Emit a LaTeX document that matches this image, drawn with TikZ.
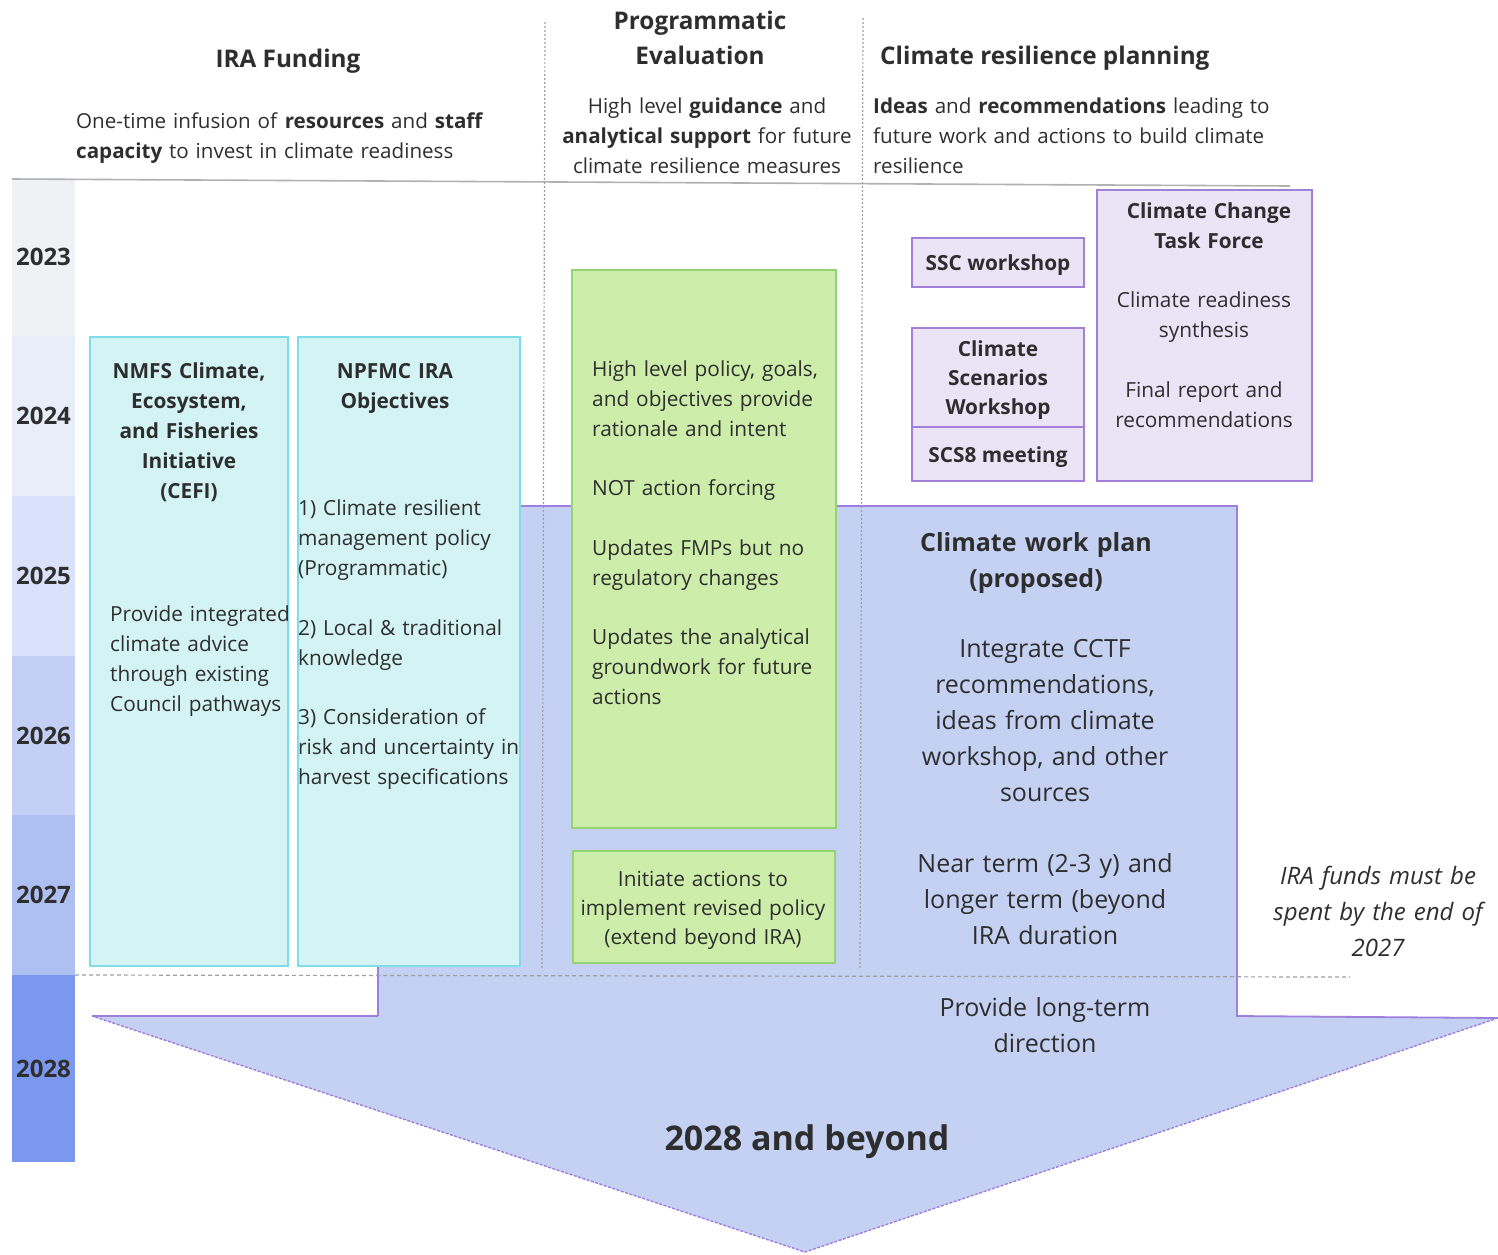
\documentclass[tikz,border=0pt]{standalone}
\usepackage{fontspec}
\setmainfont{Open Sans}
\usepackage{tikz}
\usetikzlibrary{positioning}

\definecolor{yrA}{HTML}{F0F1F5}
\definecolor{yrB}{HTML}{E8EDFA}
\definecolor{yrC}{HTML}{D9E2FA}
\definecolor{yrD}{HTML}{C4CFF5}
\definecolor{yrE}{HTML}{AEBFF2}
\definecolor{yrF}{HTML}{7C98EE}
\definecolor{cyanfill}{HTML}{D3F3F4}
\definecolor{cyanline}{HTML}{7EDDE6}
\definecolor{greenfill}{HTML}{CDEDAA}
\definecolor{greenline}{HTML}{94D472}
\definecolor{lilacfill}{HTML}{EBE3F6}
\definecolor{lilacline}{HTML}{A47FD9}
\definecolor{planfill}{HTML}{C5D1F3}
\definecolor{planline}{HTML}{9E7FDD}
\definecolor{guide}{HTML}{9E9E9E}
\definecolor{ink}{HTML}{2E2E2E}

\newcommand{\headfont}{\fontsize{24.3}{35}\selectfont\bfseries}
\newcommand{\colsubfont}{\fontsize{20.6}{30}\selectfont}
\newcommand{\boxfont}{\fontsize{20.8}{30}\selectfont}
\newcommand{\yearfont}{\fontsize{24}{30}\selectfont\bfseries}
\newcommand{\planfont}{\fontsize{25}{36}\selectfont}
\newcommand{\notefont}{\fontsize{24}{36}\selectfont\itshape}
\newcommand{\bigfont}{\fontsize{34}{40}\selectfont\bfseries}

\begin{document}
\begin{tikzpicture}[x=1pt,y=-1pt,inner sep=0pt,text=ink,
      band/.style={fill=#1,draw=none,minimum width=63pt,font=\yearfont},
      cefibox/.style={draw=cyanline,fill=cyanfill,line width=1.8pt,outer sep=0pt},
      evalbox/.style={draw=greenline,fill=greenfill,line width=1.8pt,outer sep=0pt},
      taskbox/.style={draw=lilacline,fill=lilacfill,line width=1.8pt,outer sep=0pt},
      ctxt/.style={anchor=base,text width=#1,align=center},
      ltxt/.style={anchor=base west,text width=#1,align=left},
      guideline/.style={guide,line width=1.2pt,dash pattern=on 2pt off 2pt}]
      \useasboundingbox (0,0) rectangle (1498,1254);

      % year column
      \node[band=yrA,minimum height=158pt] (y2023) at (43.5,257) {2023};
      \node[band=yrB,minimum height=160pt] (y2024) at (43.5,416) {2024};
      \node[band=yrC,minimum height=160pt] (y2025) at (43.5,576) {2025};
      \node[band=yrD,minimum height=159pt] (y2026) at (43.5,735.5) {2026};
      \node[band=yrE,minimum height=160pt] (y2027) at (43.5,895) {2027};
      \node[band=yrF,minimum height=187pt] (y2028) at (43.5,1068.5) {2028};

      % climate work plan arrow
      \coordinate (pA) at (378,506);
      \coordinate (pB) at (1237,506);
      \coordinate (pC) at (1237,1016);
      \coordinate (pD) at (1498,1018);
      \coordinate (pE) at (805,1252);
      \coordinate (pF) at (92,1016);
      \coordinate (pG) at (378,1016);
      \fill[planfill] (pA) -- (pB) -- (pC) -- (pD) -- (pE) -- (pF) -- (pG) -- cycle;
      \draw[planline,line width=1.8pt] (pG) -- (pA) -- (pB) -- (pC) -- (pD);
      \draw[planline,line width=1.8pt] (pF) -- (pG);
      \draw[planline,line width=1.4pt,dash pattern=on 3pt off 1.5pt] (pD) -- (pE) -- (pF);

      % column guides
      \draw[guide!80,line width=1.6pt] (12,179) -- (1290,186);
      \draw[guideline] (545,22) -- (542,970);
      \draw[guideline] (863,18) -- (860,968);
      \draw[guideline,dash pattern=on 4pt off 3pt] (75,975) -- (1350,977);

      % column heads
      \node[font=\headfont,anchor=base] (iraHead) at (288,67) {IRA Funding};
      \node[font=\headfont,ctxt=300] (evalHead) at (700,29) {Programmatic\\ Evaluation};
      \node[font=\headfont,anchor=base west] (planHead) at (880,64) {Climate resilience planning};
      \node[font=\colsubfont,ltxt=460] (iraSub) at (76,128.5)
        {One-time infusion of \textbf{resources} and \textbf{staff}\\
         \textbf{capacity} to invest in climate readiness};
      \node[font=\colsubfont,ctxt=400] (evalSub) at (707,113.5)
        {High level \textbf{guidance} and\\
         \textbf{analytical support} for future\\
         climate resilience measures};
      \node[font=\colsubfont,ltxt=460] (planSub) at (873,113.5)
        {\textbf{Ideas} and \textbf{recommendations} leading to\\
         future work and actions to build climate\\
         resilience};

      % IRA funding boxes
      \node[cefibox,minimum width=198pt,minimum height=629pt] (cefi) at (189,651.5) {};
      \node[cefibox,minimum width=222pt,minimum height=629pt] (npfmc) [right=10pt of cefi] {};
      \node[font=\boxfont\bfseries,ctxt=220] (cefiHead) at (189,378.5)
        {NMFS Climate,\\ Ecosystem,\\ and Fisheries\\ Initiative\\ (CEFI)};
      \node[font=\boxfont,ltxt=260] (cefiText) at (110,621.5)
        {Provide integrated\\ climate advice\\ through existing\\ Council pathways};
      \node[font=\boxfont\bfseries,ctxt=220] (npfmcHead) at (395,378.5)
        {NPFMC IRA\\ Objectives};
      \node[font=\boxfont,ltxt=260] (npfmcText) at (298,515.5)
        {1) Climate resilient\\ management policy\\ (Programmatic)\\[30pt]
         2) Local \& traditional\\ knowledge\\[29pt]
         3) Consideration of\\ risk and uncertainty in\\ harvest specifications};

      % programmatic evaluation boxes
      \node[evalbox,minimum width=264pt,minimum height=558pt] (evalMain) at (704,549) {};
      \node[evalbox,minimum width=262pt,minimum height=112pt] (evalNext) [below=23pt of evalMain] {};
      \node[font=\boxfont,ltxt=260] (evalText) at (592,376.5)
        {High level policy, goals,\\ and objectives provide\\ rationale and intent\\[29pt]
         NOT action forcing\\[30pt]
         Updates FMPs but no\\ regulatory changes\\[29pt]
         Updates the analytical\\ groundwork for future\\ actions};
      \node[ctxt=260,font=\fontsize{20.8}{29}\selectfont] (evalNextText) at (703,886.5)
        {Initiate actions to\\ implement revised policy\\ (extend beyond IRA)};

      % resilience planning boxes
      \node[taskbox,minimum width=172pt,minimum height=49pt] (ssc) at (998,262.5) {};
      \node[taskbox,minimum width=172pt,minimum height=99pt] (scen) [below=41pt of ssc] {};
      \node[taskbox,minimum width=172pt,minimum height=54pt] (scs8) [below=0pt of scen] {};
      \node[taskbox,minimum width=215pt,minimum height=291pt] (cctf) at (1204.5,335.5) {};
      \node[font=\boxfont\bfseries,anchor=base] (sscText) at (998,270.5) {SSC workshop};
      \node[font=\fontsize{20.8}{29}\selectfont\bfseries,ctxt=170] (scenText) at (998,356.5)
        {Climate\\ Scenarios\\ Workshop};
      \node[font=\boxfont\bfseries,anchor=base] (scs8Text) at (998,462.5) {SCS8 meeting};
      \node[font=\boxfont\bfseries,ctxt=210] (cctfHead) at (1209,218.5)
        {Climate Change\\ Task Force};
      \node[font=\boxfont,ctxt=210] (cctfText) at (1204,307.5)
        {Climate readiness\\ synthesis\\[30pt] Final report and\\ recommendations};

      % work plan text
      \node[font=\planfont\bfseries,ctxt=300] (planTitle) at (1036,551)
        {Climate work plan\\ (proposed)};
      \node[font=\planfont,ctxt=300] (planText) at (1045,657)
        {Integrate CCTF\\ recommendations,\\ ideas from climate\\ workshop, and other\\ sources\\[35pt]
         Near term (2-3 y) and\\ longer term (beyond\\ IRA duration\\[36pt]
         Provide long-term\\ direction};
      \node[font=\notefont,ctxt=240] (fundsNote) at (1378,884.5)
        {IRA funds must be\\ spent by the end of\\ 2027};
      \node[font=\bigfont,anchor=base] (beyond) at (807,1150) {2028 and beyond};
    \end{tikzpicture}
\end{document}
